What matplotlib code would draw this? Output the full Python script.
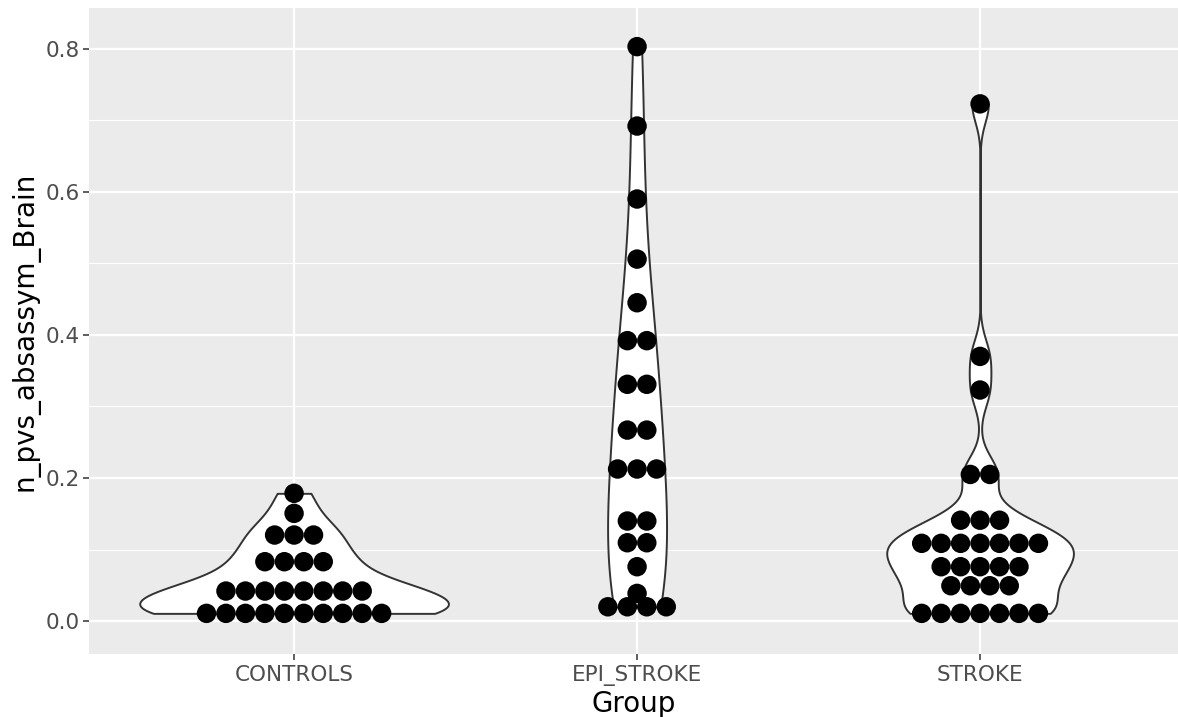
import numpy as np
import matplotlib
matplotlib.use("Agg")
import matplotlib.pyplot as plt
from matplotlib import cbook

groups = ["CONTROLS", "EPI_STROKE", "STROKE"]

# dot bins per group: bin centre (y) and number of stacked dots
controls_bins = [0.0108, 0.042, 0.083, 0.1203, 0.1506, 0.1786]
controls_counts = [10, 8, 4, 3, 1, 1]

epi_bins = [0.020, 0.0387, 0.076, 0.1095, 0.1399, 0.2126, 0.267, 0.331,
            0.392, 0.445, 0.506, 0.590, 0.692, 0.803]
epi_counts = [4, 1, 1, 2, 2, 3, 2, 2, 2, 1, 1, 1, 1, 1]

stroke_bins = [0.0108, 0.0494, 0.076, 0.1087, 0.141, 0.205, 0.323, 0.370, 0.723]
stroke_counts = [7, 4, 5, 7, 3, 2, 1, 1, 1]

binwidth = 0.0272

bins = [controls_bins, epi_bins, stroke_bins]
counts = [controls_counts, epi_counts, stroke_counts]
values = [np.repeat(b, c) for b, c in zip(bins, counts)]


def nrd0(x):
    x = np.asarray(x, float)
    sd = np.std(x, ddof=1)
    iqr = np.subtract(*np.percentile(x, [75, 25]))
    lo = min(sd, iqr / 1.34) if iqr > 0 else sd
    return 0.9 * lo * len(x) ** -0.2


def gauss_kde(X, coords):
    h = nrd0(X)
    z = (coords[:, None] - np.asarray(X)[None, :]) / h
    return np.exp(-0.5 * z ** 2).sum(axis=1) / (len(X) * h * np.sqrt(2 * np.pi))


W, H, DPI = 1178, 717, 100
fig = plt.figure(figsize=(W / DPI, H / DPI), dpi=DPI)
left, right, top, bottom = 89.3, 1178, 8, 654
ax = fig.add_axes([left / W, 1 - bottom / H, (right - left) / W, (bottom - top) / H])
ax.set_facecolor("#EBEBEB")

xlim = (0.403, 0.403 + (right - left) / 343)
ylim = (-0.046, 0.857)
ax.set_xlim(*xlim)
ax.set_ylim(*ylim)

positions = [1, 2, 3]

# violins, area-scaled against the widest density
stats = cbook.violin_stats(values, gauss_kde, points=512)
peaks = [s["vals"].max() for s in stats]
widths = [0.9 * p / max(peaks) for p in peaks]
parts = ax.violin(stats, positions=positions, widths=widths,
                  showmeans=False, showextrema=False, showmedians=False)
for body in parts["bodies"]:
    body.set_facecolor("white")
    body.set_edgecolor("#333333")
    body.set_linewidth(1.4)
    body.set_alpha(1)
    body.set_zorder(2)

# centred dot stacks
px_per_y = (bottom - top) / (ylim[1] - ylim[0])
px_per_x = (right - left) / (xlim[1] - xlim[0])
dot_px = binwidth * px_per_y
dx = dot_px / px_per_x
dot_pt = dot_px * 72 / DPI
for pos, b, c in zip(positions, bins, counts):
    for yc, n in zip(b, c):
        xs = pos + (np.arange(n) - (n - 1) / 2) * dx
        ax.scatter(xs, np.full(n, yc), s=dot_pt ** 2, color="black",
                   edgecolors="none", zorder=3)

ax.set_xticks(positions)
ax.set_xticklabels(groups)
ax.set_yticks([0.0, 0.2, 0.4, 0.6, 0.8])
ax.set_yticklabels(["0.0", "0.2", "0.4", "0.6", "0.8"])
ax.set_yticks([0.1, 0.3, 0.5, 0.7], minor=True)
ax.grid(which="major", color="white", linewidth=1.6)
ax.grid(which="minor", axis="y", color="white", linewidth=0.8)
ax.set_axisbelow(True)
ax.tick_params(which="major", length=4, width=1.1, color="#333333",
               labelcolor="#4D4D4D", labelsize=15.5, pad=3)
ax.tick_params(axis="x", pad=4)
ax.tick_params(which="minor", length=0)
for s in ax.spines.values():
    s.set_visible(False)

ax.set_xlabel("Group", fontsize=20, labelpad=3)
ax.set_ylabel("n_pvs_absassym_Brain", fontsize=20, labelpad=4)

fig.savefig("out.png", dpi=DPI)
